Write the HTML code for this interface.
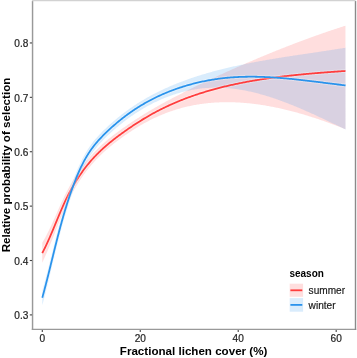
<!DOCTYPE html>
<html><head><meta charset="utf-8"><style>
html,body{margin:0;padding:0;background:#fff;}
svg{display:block;will-change:transform;}
text{font-family:"Liberation Sans",sans-serif;}
</style></head><body>
<svg width="357" height="358" viewBox="0 0 357 358">
<rect width="357" height="358" fill="#fff"/>
<path d="M42.26,242.67L43.27,240.98L44.29,239.23L45.30,237.40L46.31,235.52L47.33,233.57L48.34,231.55L49.36,229.49L50.37,227.37L51.38,225.20L52.40,223.00L53.41,220.76L54.43,218.49L55.44,216.21L56.46,213.92L57.47,211.62L58.48,209.33L59.50,207.06L60.51,204.80L61.53,202.58L62.54,200.38L63.55,198.23L64.57,196.12L65.58,194.05L66.60,192.04L67.61,190.07L68.62,188.16L69.64,186.29L70.65,184.48L71.67,182.71L72.68,180.98L73.69,179.30L74.71,177.66L75.72,176.06L76.74,174.49L77.75,172.96L78.76,171.47L79.78,170.01L80.79,168.58L81.81,167.18L82.82,165.81L83.83,164.47L84.85,163.16L85.86,161.88L86.88,160.62L87.89,159.39L88.90,158.19L89.92,157.01L90.93,155.85L91.95,154.72L92.96,153.62L93.98,152.53L94.99,151.47L96.00,150.43L97.02,149.41L98.03,148.41L99.05,147.43L100.06,146.47L101.07,145.53L102.09,144.60L103.10,143.69L104.12,142.80L105.13,141.92L106.14,141.06L107.16,140.20L108.17,139.36L109.19,138.53L110.20,137.72L111.21,136.91L112.23,136.11L113.24,135.33L114.26,134.55L115.27,133.78L116.28,133.02L117.30,132.26L118.31,131.52L119.33,130.78L120.34,130.04L121.35,129.31L122.37,128.59L123.38,127.87L124.40,127.16L125.41,126.46L126.43,125.75L127.44,125.05L128.45,124.36L129.47,123.67L130.48,122.98L131.50,122.30L132.51,121.62L133.52,120.95L134.54,120.28L135.55,119.62L136.57,118.96L137.58,118.30L138.59,117.65L139.61,117.00L140.62,116.36L141.64,115.72L142.65,115.09L143.66,114.46L144.68,113.83L145.69,113.21L146.71,112.59L147.72,111.98L148.73,111.37L149.75,110.76L150.76,110.16L151.78,109.56L152.79,108.97L153.80,108.38L154.82,107.79L155.83,107.21L156.85,106.63L157.86,106.06L158.88,105.49L159.89,104.92L160.90,104.36L161.92,103.80L162.93,103.24L163.95,102.69L164.96,102.14L165.97,101.59L166.99,101.05L168.00,100.50L169.02,99.96L170.03,99.42L171.04,98.89L172.06,98.36L173.07,97.82L174.09,97.30L175.10,96.77L176.11,96.24L177.13,95.72L178.14,95.20L179.16,94.68L180.17,94.16L181.18,93.64L182.20,93.13L183.21,92.61L184.23,92.10L185.24,91.59L186.25,91.08L187.27,90.58L188.28,90.07L189.30,89.57L190.31,89.06L191.33,88.56L192.34,88.06L193.35,87.56L194.37,87.07L195.38,86.57L196.40,86.08L197.41,85.58L198.42,85.09L199.44,84.60L200.45,84.11L201.47,83.63L202.48,83.14L203.49,82.66L204.51,82.17L205.52,81.69L206.54,81.21L207.55,80.73L208.56,80.25L209.58,79.77L210.59,79.30L211.61,78.82L212.62,78.35L213.63,77.87L214.65,77.40L215.66,76.93L216.68,76.46L217.69,75.99L218.70,75.53L219.72,75.06L220.73,74.60L221.75,74.13L222.76,73.67L223.78,73.21L224.79,72.75L225.80,72.29L226.82,71.83L227.83,71.37L228.85,70.91L229.86,70.46L230.87,70.00L231.89,69.55L232.90,69.10L233.92,68.65L234.93,68.20L235.94,67.75L236.96,67.30L237.97,66.85L238.99,66.41L240.00,65.96L241.01,65.52L242.03,65.07L243.04,64.63L244.06,64.19L245.07,63.75L246.08,63.31L247.10,62.87L248.11,62.44L249.13,62.00L250.14,61.57L251.15,61.13L252.17,60.70L253.18,60.27L254.20,59.84L255.21,59.41L256.22,58.98L257.24,58.55L258.25,58.12L259.27,57.70L260.28,57.27L261.30,56.85L262.31,56.42L263.32,56.00L264.34,55.58L265.35,55.16L266.37,54.74L267.38,54.33L268.39,53.91L269.41,53.49L270.42,53.08L271.44,52.67L272.45,52.25L273.46,51.84L274.48,51.43L275.49,51.02L276.51,50.62L277.52,50.21L278.53,49.80L279.55,49.40L280.56,48.99L281.58,48.59L282.59,48.19L283.60,47.79L284.62,47.39L285.63,46.99L286.65,46.60L287.66,46.20L288.67,45.81L289.69,45.41L290.70,45.02L291.72,44.63L292.73,44.24L293.75,43.85L294.76,43.46L295.77,43.07L296.79,42.69L297.80,42.31L298.82,41.92L299.83,41.54L300.84,41.16L301.86,40.78L302.87,40.40L303.89,40.02L304.90,39.65L305.91,39.27L306.93,38.90L307.94,38.53L308.96,38.16L309.97,37.79L310.98,37.42L312.00,37.05L313.01,36.69L314.03,36.32L315.04,35.96L316.05,35.60L317.07,35.24L318.08,34.88L319.10,34.52L320.11,34.16L321.12,33.81L322.14,33.45L323.15,33.10L324.17,32.75L325.18,32.40L326.20,32.05L327.21,31.70L328.22,31.36L329.24,31.01L330.25,30.67L331.27,30.33L332.28,29.99L333.29,29.65L334.31,29.31L335.32,28.97L336.34,28.64L337.35,28.30L338.36,27.97L339.38,27.64L340.39,27.31L341.41,26.99L342.42,26.66L343.43,26.33L344.45,26.01L345.46,25.69L345.46,129.20L344.45,128.80L343.43,128.40L342.42,128.00L341.41,127.60L340.39,127.21L339.38,126.82L338.36,126.43L337.35,126.04L336.34,125.66L335.32,125.27L334.31,124.89L333.29,124.52L332.28,124.14L331.27,123.77L330.25,123.39L329.24,123.02L328.22,122.66L327.21,122.29L326.20,121.93L325.18,121.57L324.17,121.21L323.15,120.86L322.14,120.51L321.12,120.16L320.11,119.81L319.10,119.47L318.08,119.12L317.07,118.78L316.05,118.45L315.04,118.11L314.03,117.78L313.01,117.45L312.00,117.13L310.98,116.80L309.97,116.48L308.96,116.17L307.94,115.85L306.93,115.54L305.91,115.23L304.90,114.92L303.89,114.62L302.87,114.32L301.86,114.02L300.84,113.73L299.83,113.44L298.82,113.15L297.80,112.87L296.79,112.58L295.77,112.31L294.76,112.03L293.75,111.76L292.73,111.49L291.72,111.22L290.70,110.96L289.69,110.70L288.67,110.45L287.66,110.19L286.65,109.94L285.63,109.70L284.62,109.46L283.60,109.22L282.59,108.98L281.58,108.75L280.56,108.52L279.55,108.30L278.53,108.08L277.52,107.86L276.51,107.64L275.49,107.43L274.48,107.23L273.46,107.02L272.45,106.82L271.44,106.63L270.42,106.44L269.41,106.25L268.39,106.07L267.38,105.89L266.37,105.71L265.35,105.54L264.34,105.37L263.32,105.20L262.31,105.04L261.30,104.89L260.28,104.74L259.27,104.59L258.25,104.44L257.24,104.30L256.22,104.17L255.21,104.04L254.20,103.91L253.18,103.79L252.17,103.67L251.15,103.56L250.14,103.45L249.13,103.34L248.11,103.24L247.10,103.14L246.08,103.05L245.07,102.96L244.06,102.88L243.04,102.80L242.03,102.73L241.01,102.66L240.00,102.59L238.99,102.54L237.97,102.48L236.96,102.43L235.94,102.38L234.93,102.34L233.92,102.31L232.90,102.28L231.89,102.25L230.87,102.23L229.86,102.22L228.85,102.20L227.83,102.20L226.82,102.20L225.80,102.20L224.79,102.21L223.78,102.23L222.76,102.25L221.75,102.27L220.73,102.31L219.72,102.34L218.70,102.38L217.69,102.43L216.68,102.48L215.66,102.54L214.65,102.61L213.63,102.67L212.62,102.75L211.61,102.83L210.59,102.92L209.58,103.01L208.56,103.11L207.55,103.21L206.54,103.32L205.52,103.44L204.51,103.56L203.49,103.69L202.48,103.82L201.47,103.96L200.45,104.10L199.44,104.26L198.42,104.42L197.41,104.58L196.40,104.75L195.38,104.93L194.37,105.11L193.35,105.30L192.34,105.50L191.33,105.70L190.31,105.91L189.30,106.13L188.28,106.35L187.27,106.58L186.25,106.82L185.24,107.06L184.23,107.32L183.21,107.57L182.20,107.84L181.18,108.11L180.17,108.39L179.16,108.68L178.14,108.97L177.13,109.27L176.11,109.58L175.10,109.89L174.09,110.22L173.07,110.55L172.06,110.89L171.04,111.23L170.03,111.59L169.02,111.95L168.00,112.32L166.99,112.70L165.97,113.08L164.96,113.47L163.95,113.88L162.93,114.28L161.92,114.70L160.90,115.13L159.89,115.56L158.88,116.00L157.86,116.45L156.85,116.91L155.83,117.38L154.82,117.85L153.80,118.33L152.79,118.83L151.78,119.33L150.76,119.83L149.75,120.35L148.73,120.88L147.72,121.41L146.71,121.95L145.69,122.50L144.68,123.06L143.66,123.62L142.65,124.19L141.64,124.78L140.62,125.36L139.61,125.96L138.59,126.57L137.58,127.18L136.57,127.80L135.55,128.42L134.54,129.06L133.52,129.70L132.51,130.35L131.50,131.01L130.48,131.67L129.47,132.34L128.45,133.02L127.44,133.70L126.43,134.40L125.41,135.10L124.40,135.80L123.38,136.51L122.37,137.24L121.35,137.96L120.34,138.70L119.33,139.44L118.31,140.20L117.30,140.96L116.28,141.73L115.27,142.51L114.26,143.30L113.24,144.10L112.23,144.91L111.21,145.73L110.20,146.57L109.19,147.42L108.17,148.27L107.16,149.15L106.14,150.03L105.13,150.93L104.12,151.85L103.10,152.78L102.09,153.73L101.07,154.69L100.06,155.68L99.05,156.68L98.03,157.70L97.02,158.74L96.00,159.80L94.99,160.89L93.98,162.00L92.96,163.14L91.95,164.30L90.93,165.49L89.92,166.70L88.90,167.94L87.89,169.22L86.88,170.51L85.86,171.84L84.85,173.20L83.83,174.60L82.82,176.02L81.81,177.48L80.79,178.98L79.78,180.51L78.76,182.08L77.75,183.68L76.74,185.33L75.72,187.02L74.71,188.76L73.69,190.53L72.68,192.36L71.67,194.24L70.65,196.16L69.64,198.14L68.62,200.18L67.61,202.28L66.60,204.43L65.58,206.65L64.57,208.92L63.55,211.25L62.54,213.63L61.53,216.05L60.51,218.52L59.50,221.03L58.48,223.57L57.47,226.13L56.46,228.71L55.44,231.30L54.43,233.89L53.41,236.47L52.40,239.04L51.38,241.58L50.37,244.10L49.36,246.58L48.34,249.02L47.33,251.42L46.31,253.77L45.30,256.07L44.29,258.32L43.27,260.52L42.26,262.66Z" fill="rgba(255,61,61,0.17)"/>
<path d="M42.29,290.71L43.30,287.04L44.32,283.30L45.33,279.48L46.35,275.60L47.36,271.66L48.38,267.67L49.39,263.64L50.40,259.58L51.42,255.50L52.43,251.41L53.45,247.34L54.46,243.28L55.47,239.26L56.49,235.27L57.50,231.34L58.52,227.47L59.53,223.66L60.55,219.93L61.56,216.27L62.57,212.70L63.59,209.21L64.60,205.80L65.62,202.48L66.63,199.25L67.64,196.10L68.66,193.03L69.67,190.05L70.69,187.14L71.70,184.32L72.72,181.57L73.73,178.89L74.74,176.28L75.76,173.74L76.77,171.27L77.79,168.87L78.80,166.56L79.81,164.32L80.83,162.16L81.84,160.09L82.86,158.10L83.87,156.19L84.89,154.35L85.90,152.59L86.91,150.90L87.93,149.28L88.94,147.73L89.96,146.24L90.97,144.81L91.98,143.44L93.00,142.12L94.01,140.85L95.03,139.62L96.04,138.42L97.06,137.26L98.07,136.13L99.08,135.02L100.10,133.95L101.11,132.89L102.13,131.86L103.14,130.85L104.15,129.86L105.17,128.88L106.18,127.92L107.20,126.97L108.21,126.04L109.23,125.11L110.24,124.20L111.25,123.30L112.27,122.41L113.28,121.53L114.30,120.67L115.31,119.81L116.32,118.96L117.34,118.12L118.35,117.29L119.37,116.47L120.38,115.66L121.39,114.86L122.41,114.07L123.42,113.29L124.44,112.52L125.45,111.76L126.47,111.01L127.48,110.27L128.49,109.54L129.51,108.81L130.52,108.10L131.54,107.40L132.55,106.70L133.56,106.01L134.58,105.34L135.59,104.67L136.61,104.01L137.62,103.36L138.64,102.72L139.65,102.08L140.66,101.46L141.68,100.84L142.69,100.23L143.71,99.63L144.72,99.03L145.73,98.45L146.75,97.87L147.76,97.29L148.78,96.73L149.79,96.17L150.81,95.62L151.82,95.07L152.83,94.53L153.85,94.00L154.86,93.47L155.88,92.96L156.89,92.44L157.90,91.94L158.92,91.43L159.93,90.94L160.95,90.45L161.96,89.97L162.98,89.49L163.99,89.02L165.00,88.55L166.02,88.09L167.03,87.63L168.05,87.18L169.06,86.74L170.07,86.30L171.09,85.86L172.10,85.43L173.12,85.01L174.13,84.59L175.15,84.17L176.16,83.76L177.17,83.35L178.19,82.95L179.20,82.55L180.22,82.16L181.23,81.77L182.24,81.39L183.26,81.01L184.27,80.64L185.29,80.26L186.30,79.90L187.32,79.53L188.33,79.17L189.34,78.82L190.36,78.47L191.37,78.12L192.39,77.78L193.40,77.44L194.41,77.10L195.43,76.77L196.44,76.44L197.46,76.11L198.47,75.79L199.49,75.47L200.50,75.16L201.51,74.84L202.53,74.54L203.54,74.23L204.56,73.93L205.57,73.63L206.58,73.33L207.60,73.04L208.61,72.75L209.63,72.46L210.64,72.18L211.66,71.90L212.67,71.62L213.68,71.34L214.70,71.07L215.71,70.80L216.73,70.53L217.74,70.27L218.75,70.01L219.77,69.75L220.78,69.49L221.80,69.24L222.81,68.98L223.83,68.73L224.84,68.49L225.85,68.24L226.87,68.00L227.88,67.76L228.90,67.52L229.91,67.29L230.92,67.05L231.94,66.82L232.95,66.60L233.97,66.37L234.98,66.14L236.00,65.92L237.01,65.70L238.02,65.48L239.04,65.27L240.05,65.05L241.07,64.84L242.08,64.63L243.09,64.42L244.11,64.21L245.12,64.00L246.14,63.80L247.15,63.60L248.17,63.40L249.18,63.20L250.19,63.00L251.21,62.80L252.22,62.61L253.24,62.42L254.25,62.23L255.26,62.04L256.28,61.85L257.29,61.66L258.31,61.47L259.32,61.29L260.34,61.11L261.35,60.92L262.36,60.74L263.38,60.56L264.39,60.39L265.41,60.21L266.42,60.03L267.43,59.86L268.45,59.68L269.46,59.51L270.48,59.34L271.49,59.17L272.51,59.00L273.52,58.83L274.53,58.66L275.55,58.50L276.56,58.33L277.58,58.17L278.59,58.00L279.60,57.84L280.62,57.68L281.63,57.51L282.65,57.35L283.66,57.19L284.68,57.03L285.69,56.87L286.70,56.71L287.72,56.56L288.73,56.40L289.75,56.24L290.76,56.09L291.77,55.93L292.79,55.77L293.80,55.62L294.82,55.47L295.83,55.31L296.85,55.16L297.86,55.00L298.87,54.85L299.89,54.70L300.90,54.55L301.92,54.39L302.93,54.24L303.94,54.09L304.96,53.94L305.97,53.79L306.99,53.64L308.00,53.49L309.02,53.33L310.03,53.18L311.04,53.03L312.06,52.88L313.07,52.73L314.09,52.58L315.10,52.43L316.11,52.28L317.13,52.13L318.14,51.97L319.16,51.82L320.17,51.67L321.19,51.52L322.20,51.36L323.21,51.21L324.23,51.06L325.24,50.91L326.26,50.75L327.27,50.60L328.28,50.44L329.30,50.29L330.31,50.13L331.33,49.97L332.34,49.82L333.36,49.66L334.37,49.50L335.38,49.34L336.40,49.18L337.41,49.03L338.43,48.86L339.44,48.70L340.45,48.54L341.47,48.38L342.48,48.21L343.50,48.05L344.51,47.88L345.53,47.72L345.53,129.51L344.51,129.02L343.50,128.53L342.48,128.04L341.47,127.55L340.45,127.06L339.44,126.57L338.43,126.08L337.41,125.59L336.40,125.10L335.38,124.61L334.37,124.12L333.36,123.64L332.34,123.15L331.33,122.66L330.31,122.18L329.30,121.69L328.28,121.21L327.27,120.73L326.26,120.25L325.24,119.77L324.23,119.29L323.21,118.81L322.20,118.33L321.19,117.86L320.17,117.38L319.16,116.91L318.14,116.44L317.13,115.97L316.11,115.50L315.10,115.04L314.09,114.57L313.07,114.11L312.06,113.65L311.04,113.19L310.03,112.73L309.02,112.28L308.00,111.83L306.99,111.38L305.97,110.93L304.96,110.48L303.94,110.04L302.93,109.60L301.92,109.16L300.90,108.73L299.89,108.30L298.87,107.87L297.86,107.44L296.85,107.01L295.83,106.59L294.82,106.17L293.80,105.76L292.79,105.34L291.77,104.94L290.76,104.53L289.75,104.13L288.73,103.73L287.72,103.33L286.70,102.94L285.69,102.55L284.68,102.16L283.66,101.78L282.65,101.40L281.63,101.03L280.62,100.66L279.60,100.29L278.59,99.92L277.58,99.57L276.56,99.21L275.55,98.86L274.53,98.51L273.52,98.17L272.51,97.83L271.49,97.50L270.48,97.17L269.46,96.84L268.45,96.52L267.43,96.21L266.42,95.89L265.41,95.59L264.39,95.29L263.38,94.99L262.36,94.70L261.35,94.41L260.34,94.13L259.32,93.85L258.31,93.58L257.29,93.31L256.28,93.05L255.26,92.80L254.25,92.55L253.24,92.30L252.22,92.06L251.21,91.83L250.19,91.60L249.18,91.38L248.17,91.16L247.15,90.95L246.14,90.74L245.12,90.55L244.11,90.35L243.09,90.17L242.08,89.99L241.07,89.81L240.05,89.64L239.04,89.48L238.02,89.33L237.01,89.18L236.00,89.04L234.98,88.90L233.97,88.77L232.95,88.65L231.94,88.54L230.92,88.43L229.91,88.33L228.90,88.23L227.88,88.15L226.87,88.07L225.85,88.00L224.84,87.93L223.83,87.87L222.81,87.82L221.80,87.78L220.78,87.74L219.77,87.71L218.75,87.69L217.74,87.68L216.73,87.67L215.71,87.67L214.70,87.68L213.68,87.69L212.67,87.72L211.66,87.75L210.64,87.79L209.63,87.83L208.61,87.89L207.60,87.95L206.58,88.02L205.57,88.09L204.56,88.18L203.54,88.27L202.53,88.37L201.51,88.48L200.50,88.60L199.49,88.72L198.47,88.85L197.46,88.99L196.44,89.14L195.43,89.30L194.41,89.47L193.40,89.64L192.39,89.82L191.37,90.01L190.36,90.21L189.34,90.42L188.33,90.63L187.32,90.86L186.30,91.09L185.29,91.33L184.27,91.58L183.26,91.83L182.24,92.10L181.23,92.37L180.22,92.65L179.20,92.94L178.19,93.24L177.17,93.55L176.16,93.86L175.15,94.18L174.13,94.51L173.12,94.85L172.10,95.20L171.09,95.55L170.07,95.92L169.06,96.29L168.05,96.67L167.03,97.06L166.02,97.45L165.00,97.86L163.99,98.27L162.98,98.69L161.96,99.12L160.95,99.56L159.93,100.01L158.92,100.46L157.90,100.93L156.89,101.40L155.88,101.88L154.86,102.37L153.85,102.87L152.83,103.37L151.82,103.89L150.81,104.41L149.79,104.94L148.78,105.48L147.76,106.03L146.75,106.59L145.73,107.16L144.72,107.74L143.71,108.33L142.69,108.92L141.68,109.53L140.66,110.14L139.65,110.76L138.64,111.40L137.62,112.04L136.61,112.69L135.59,113.35L134.58,114.03L133.56,114.71L132.55,115.40L131.54,116.10L130.52,116.81L129.51,117.54L128.49,118.27L127.48,119.01L126.47,119.76L125.45,120.53L124.44,121.30L123.42,122.08L122.41,122.88L121.39,123.68L120.38,124.50L119.37,125.32L118.35,126.16L117.34,127.00L116.32,127.86L115.31,128.73L114.30,129.61L113.28,130.50L112.27,131.40L111.25,132.31L110.24,133.24L109.23,134.17L108.21,135.12L107.20,136.08L106.18,137.06L105.17,138.05L104.15,139.06L103.14,140.08L102.13,141.13L101.11,142.20L100.10,143.29L99.08,144.40L98.07,145.54L97.06,146.71L96.04,147.92L95.03,149.16L94.01,150.44L93.00,151.76L91.98,153.13L90.97,154.55L89.96,156.03L88.94,157.57L87.93,159.17L86.91,160.85L85.90,162.60L84.89,164.42L83.87,166.32L82.86,168.29L81.84,170.35L80.83,172.49L79.81,174.72L78.80,177.03L77.79,179.42L76.77,181.89L75.76,184.44L74.74,187.06L73.73,189.75L72.72,192.51L71.70,195.35L70.69,198.27L69.67,201.26L68.66,204.34L67.64,207.50L66.63,210.75L65.62,214.09L64.60,217.51L63.59,221.02L62.57,224.62L61.56,228.30L60.55,232.07L59.53,235.92L58.52,239.84L57.50,243.84L56.49,247.90L55.47,252.01L54.46,256.16L53.45,260.35L52.43,264.56L51.42,268.78L50.40,273.00L49.39,277.21L48.38,281.39L47.36,285.53L46.35,289.62L45.33,293.66L44.32,297.63L43.30,301.54L42.29,305.36Z" fill="rgba(42,147,236,0.18)"/>
<path d="M42.26,253.06L42.70,252.23L43.13,251.39L43.56,250.54L43.99,249.69L44.42,248.85L44.84,247.99L45.25,247.14L45.66,246.28L46.07,245.43L46.48,244.56L46.88,243.70L47.28,242.84L47.68,241.97L48.08,241.10L48.47,240.23L48.86,239.36L49.24,238.48L49.63,237.61L50.01,236.73L50.39,235.85L50.77,234.98L51.15,234.09L51.53,233.21L51.90,232.33L52.28,231.45L52.65,230.56L53.02,229.68L53.39,228.79L53.76,227.90L54.13,227.01L54.50,226.13L54.87,225.24L55.23,224.35L55.60,223.46L55.97,222.57L56.34,221.68L56.71,220.79L57.07,219.90L57.44,219.01L57.81,218.12L58.18,217.23L58.55,216.34L58.93,215.45L59.30,214.57L59.67,213.68L60.05,212.79L60.43,211.91L60.81,211.02L61.19,210.14L61.57,209.25L61.95,208.37L62.34,207.49L62.73,206.61L63.12,205.73L63.52,204.85L63.91,203.98L64.31,203.10L64.71,202.23L65.12,201.36L65.53,200.49L65.94,199.62L66.36,198.75L66.78,197.89L67.20,197.03L67.62,196.17L68.06,195.31L68.49,194.46L68.93,193.60L69.37,192.75L69.82,191.91L70.27,191.06L70.72,190.22L71.18,189.38L71.65,188.54L72.12,187.70L72.59,186.87L73.06,186.04L73.54,185.21L74.03,184.39L74.52,183.57L75.01,182.75L75.51,181.93L76.01,181.12L76.52,180.31L77.03,179.51L77.55,178.70L78.07,177.90L78.59,177.10L79.12,176.31L79.65,175.52L80.19,174.73L80.73,173.95L81.28,173.17L81.83,172.39L82.38,171.62L82.94,170.85L83.51,170.08L84.08,169.32L84.65,168.56L85.23,167.80L85.81,167.05L86.40,166.30L86.99,165.56L87.58,164.82L88.18,164.08L88.79,163.35L89.40,162.62L90.01,161.89L90.63,161.17L91.26,160.45L91.89,159.74L92.52,159.03L93.16,158.33L93.80,157.63L94.45,156.93L95.10,156.24L95.76,155.55L96.42,154.87L97.09,154.19L97.76,153.52L98.43,152.85L99.11,152.18L99.80,151.52L100.49,150.86L101.18,150.21L101.88,149.56L102.58,148.92L103.29,148.27L104.00,147.64L104.71,147.00L105.43,146.37L106.15,145.74L106.87,145.12L107.60,144.50L108.33,143.88L109.06,143.27L109.80,142.66L110.54,142.05L111.29,141.45L112.04,140.85L112.79,140.25L113.54,139.65L114.29,139.06L115.05,138.47L115.81,137.89L116.58,137.30L117.34,136.72L118.11,136.15L118.88,135.57L119.66,135.00L120.43,134.43L121.21,133.86L121.99,133.29L122.77,132.73L123.56,132.17L124.34,131.61L125.13,131.05L125.92,130.50L126.71,129.94L127.50,129.39L128.29,128.84L129.09,128.30L129.88,127.75L130.68,127.21L131.48,126.67L132.28,126.13L133.08,125.60L133.89,125.06L134.69,124.53L135.50,124.01L136.31,123.48L137.12,122.96L137.93,122.44L138.75,121.92L139.56,121.41L140.38,120.90L141.20,120.39L142.02,119.88L142.84,119.38L143.66,118.88L144.49,118.38L145.31,117.89L146.14,117.40L146.97,116.91L147.80,116.42L148.63,115.94L149.47,115.46L150.30,114.99L151.14,114.52L151.98,114.05L152.82,113.59L153.66,113.12L154.50,112.67L155.34,112.21L156.19,111.76L157.04,111.32L157.89,110.87L158.74,110.43L159.59,110.00L160.44,109.56L161.29,109.13L162.15,108.71L163.01,108.28L163.86,107.87L164.72,107.45L165.59,107.04L166.45,106.63L167.31,106.22L168.18,105.82L169.04,105.42L169.91,105.03L170.78,104.63L171.65,104.24L172.52,103.86L173.40,103.48L174.27,103.10L175.14,102.72L176.02,102.35L176.90,101.98L177.78,101.61L178.66,101.25L179.54,100.89L180.42,100.53L181.31,100.17L182.19,99.82L183.08,99.48L183.97,99.13L184.86,98.79L185.75,98.45L186.64,98.11L187.53,97.78L188.42,97.45L189.32,97.12L190.21,96.80L191.11,96.48L192.00,96.16L192.90,95.84L193.80,95.53L194.70,95.22L195.61,94.91L196.51,94.61L197.41,94.31L198.32,94.01L199.22,93.71L200.13,93.42L201.04,93.13L201.95,92.84L202.86,92.56L203.77,92.28L204.68,92.00L205.59,91.72L206.50,91.45L207.42,91.17L208.33,90.90L209.25,90.64L210.17,90.37L211.08,90.11L212.00,89.85L212.92,89.60L213.84,89.34L214.76,89.09L215.68,88.84L216.61,88.60L217.53,88.35L218.46,88.11L219.38,87.87L220.31,87.64L221.23,87.40L222.16,87.17L223.09,86.94L224.02,86.71L224.95,86.49L225.88,86.27L226.81,86.04L227.74,85.83L228.67,85.61L229.61,85.40L230.54,85.19L231.47,84.98L232.41,84.77L233.34,84.56L234.28,84.36L235.22,84.16L236.15,83.96L237.09,83.77L238.03,83.57L238.97,83.38L239.91,83.19L240.85,83.00L241.79,82.81L242.73,82.63L243.68,82.45L244.62,82.27L245.56,82.09L246.50,81.91L247.45,81.74L248.39,81.57L249.34,81.39L250.28,81.23L251.23,81.06L252.18,80.89L253.12,80.73L254.07,80.57L255.02,80.41L255.96,80.25L256.91,80.09L257.86,79.94L258.81,79.79L259.76,79.64L260.71,79.49L261.66,79.34L262.61,79.19L263.56,79.05L264.51,78.91L265.46,78.76L266.42,78.63L267.37,78.49L268.32,78.35L269.27,78.22L270.22,78.08L271.18,77.95L272.13,77.82L273.08,77.69L274.04,77.56L274.99,77.44L275.95,77.31L276.90,77.19L277.85,77.07L278.81,76.95L279.76,76.83L280.72,76.71L281.67,76.59L282.63,76.48L283.58,76.37L284.54,76.25L285.50,76.14L286.45,76.03L287.41,75.92L288.36,75.82L289.32,75.71L290.27,75.60L291.23,75.50L292.19,75.40L293.14,75.29L294.10,75.19L295.05,75.09L296.01,75.00L296.97,74.90L297.92,74.80L298.88,74.71L299.83,74.61L300.79,74.52L301.74,74.43L302.70,74.34L303.66,74.25L304.61,74.16L305.57,74.07L306.52,73.98L307.48,73.89L308.43,73.81L309.39,73.72L310.34,73.64L311.29,73.55L312.25,73.47L313.20,73.39L314.16,73.31L315.11,73.23L316.06,73.15L317.02,73.07L317.97,72.99L318.92,72.92L319.88,72.84L320.83,72.76L321.78,72.69L322.73,72.61L323.68,72.54L324.63,72.46L325.59,72.39L326.54,72.32L327.49,72.25L328.44,72.18L329.38,72.11L330.33,72.03L331.28,71.97L332.23,71.90L333.18,71.83L334.13,71.76L335.07,71.69L336.02,71.62L336.97,71.55L337.91,71.49L338.86,71.42L339.80,71.35L340.75,71.29L341.69,71.22L342.63,71.16L343.58,71.09L344.52,71.03L345.46,70.96" fill="none" stroke="#fff" stroke-opacity="0.3" stroke-width="3.8"/>
<path d="M42.26,253.06L42.70,252.23L43.13,251.39L43.56,250.54L43.99,249.69L44.42,248.85L44.84,247.99L45.25,247.14L45.66,246.28L46.07,245.43L46.48,244.56L46.88,243.70L47.28,242.84L47.68,241.97L48.08,241.10L48.47,240.23L48.86,239.36L49.24,238.48L49.63,237.61L50.01,236.73L50.39,235.85L50.77,234.98L51.15,234.09L51.53,233.21L51.90,232.33L52.28,231.45L52.65,230.56L53.02,229.68L53.39,228.79L53.76,227.90L54.13,227.01L54.50,226.13L54.87,225.24L55.23,224.35L55.60,223.46L55.97,222.57L56.34,221.68L56.71,220.79L57.07,219.90L57.44,219.01L57.81,218.12L58.18,217.23L58.55,216.34L58.93,215.45L59.30,214.57L59.67,213.68L60.05,212.79L60.43,211.91L60.81,211.02L61.19,210.14L61.57,209.25L61.95,208.37L62.34,207.49L62.73,206.61L63.12,205.73L63.52,204.85L63.91,203.98L64.31,203.10L64.71,202.23L65.12,201.36L65.53,200.49L65.94,199.62L66.36,198.75L66.78,197.89L67.20,197.03L67.62,196.17L68.06,195.31L68.49,194.46L68.93,193.60L69.37,192.75L69.82,191.91L70.27,191.06L70.72,190.22L71.18,189.38L71.65,188.54L72.12,187.70L72.59,186.87L73.06,186.04L73.54,185.21L74.03,184.39L74.52,183.57L75.01,182.75L75.51,181.93L76.01,181.12L76.52,180.31L77.03,179.51L77.55,178.70L78.07,177.90L78.59,177.10L79.12,176.31L79.65,175.52L80.19,174.73L80.73,173.95L81.28,173.17L81.83,172.39L82.38,171.62L82.94,170.85L83.51,170.08L84.08,169.32L84.65,168.56L85.23,167.80L85.81,167.05L86.40,166.30L86.99,165.56L87.58,164.82L88.18,164.08L88.79,163.35L89.40,162.62L90.01,161.89L90.63,161.17L91.26,160.45L91.89,159.74L92.52,159.03L93.16,158.33L93.80,157.63L94.45,156.93L95.10,156.24L95.76,155.55L96.42,154.87L97.09,154.19L97.76,153.52L98.43,152.85L99.11,152.18L99.80,151.52L100.49,150.86L101.18,150.21L101.88,149.56L102.58,148.92L103.29,148.27L104.00,147.64L104.71,147.00L105.43,146.37L106.15,145.74L106.87,145.12L107.60,144.50L108.33,143.88L109.06,143.27L109.80,142.66L110.54,142.05L111.29,141.45L112.04,140.85L112.79,140.25L113.54,139.65L114.29,139.06L115.05,138.47L115.81,137.89L116.58,137.30L117.34,136.72L118.11,136.15L118.88,135.57L119.66,135.00L120.43,134.43L121.21,133.86L121.99,133.29L122.77,132.73L123.56,132.17L124.34,131.61L125.13,131.05L125.92,130.50L126.71,129.94L127.50,129.39L128.29,128.84L129.09,128.30L129.88,127.75L130.68,127.21L131.48,126.67L132.28,126.13L133.08,125.60L133.89,125.06L134.69,124.53L135.50,124.01L136.31,123.48L137.12,122.96L137.93,122.44L138.75,121.92L139.56,121.41L140.38,120.90L141.20,120.39L142.02,119.88L142.84,119.38L143.66,118.88L144.49,118.38L145.31,117.89L146.14,117.40L146.97,116.91L147.80,116.42L148.63,115.94L149.47,115.46L150.30,114.99L151.14,114.52L151.98,114.05L152.82,113.59L153.66,113.12L154.50,112.67L155.34,112.21L156.19,111.76L157.04,111.32L157.89,110.87L158.74,110.43L159.59,110.00L160.44,109.56L161.29,109.13L162.15,108.71L163.01,108.28L163.86,107.87L164.72,107.45L165.59,107.04L166.45,106.63L167.31,106.22L168.18,105.82L169.04,105.42L169.91,105.03L170.78,104.63L171.65,104.24L172.52,103.86L173.40,103.48L174.27,103.10L175.14,102.72L176.02,102.35L176.90,101.98L177.78,101.61L178.66,101.25L179.54,100.89L180.42,100.53L181.31,100.17L182.19,99.82L183.08,99.48L183.97,99.13L184.86,98.79L185.75,98.45L186.64,98.11L187.53,97.78L188.42,97.45L189.32,97.12L190.21,96.80L191.11,96.48L192.00,96.16L192.90,95.84L193.80,95.53L194.70,95.22L195.61,94.91L196.51,94.61L197.41,94.31L198.32,94.01L199.22,93.71L200.13,93.42L201.04,93.13L201.95,92.84L202.86,92.56L203.77,92.28L204.68,92.00L205.59,91.72L206.50,91.45L207.42,91.17L208.33,90.90L209.25,90.64L210.17,90.37L211.08,90.11L212.00,89.85L212.92,89.60L213.84,89.34L214.76,89.09L215.68,88.84L216.61,88.60L217.53,88.35L218.46,88.11L219.38,87.87L220.31,87.64L221.23,87.40L222.16,87.17L223.09,86.94L224.02,86.71L224.95,86.49L225.88,86.27L226.81,86.04L227.74,85.83L228.67,85.61L229.61,85.40L230.54,85.19L231.47,84.98L232.41,84.77L233.34,84.56L234.28,84.36L235.22,84.16L236.15,83.96L237.09,83.77L238.03,83.57L238.97,83.38L239.91,83.19L240.85,83.00L241.79,82.81L242.73,82.63L243.68,82.45L244.62,82.27L245.56,82.09L246.50,81.91L247.45,81.74L248.39,81.57L249.34,81.39L250.28,81.23L251.23,81.06L252.18,80.89L253.12,80.73L254.07,80.57L255.02,80.41L255.96,80.25L256.91,80.09L257.86,79.94L258.81,79.79L259.76,79.64L260.71,79.49L261.66,79.34L262.61,79.19L263.56,79.05L264.51,78.91L265.46,78.76L266.42,78.63L267.37,78.49L268.32,78.35L269.27,78.22L270.22,78.08L271.18,77.95L272.13,77.82L273.08,77.69L274.04,77.56L274.99,77.44L275.95,77.31L276.90,77.19L277.85,77.07L278.81,76.95L279.76,76.83L280.72,76.71L281.67,76.59L282.63,76.48L283.58,76.37L284.54,76.25L285.50,76.14L286.45,76.03L287.41,75.92L288.36,75.82L289.32,75.71L290.27,75.60L291.23,75.50L292.19,75.40L293.14,75.29L294.10,75.19L295.05,75.09L296.01,75.00L296.97,74.90L297.92,74.80L298.88,74.71L299.83,74.61L300.79,74.52L301.74,74.43L302.70,74.34L303.66,74.25L304.61,74.16L305.57,74.07L306.52,73.98L307.48,73.89L308.43,73.81L309.39,73.72L310.34,73.64L311.29,73.55L312.25,73.47L313.20,73.39L314.16,73.31L315.11,73.23L316.06,73.15L317.02,73.07L317.97,72.99L318.92,72.92L319.88,72.84L320.83,72.76L321.78,72.69L322.73,72.61L323.68,72.54L324.63,72.46L325.59,72.39L326.54,72.32L327.49,72.25L328.44,72.18L329.38,72.11L330.33,72.03L331.28,71.97L332.23,71.90L333.18,71.83L334.13,71.76L335.07,71.69L336.02,71.62L336.97,71.55L337.91,71.49L338.86,71.42L339.80,71.35L340.75,71.29L341.69,71.22L342.63,71.16L343.58,71.09L344.52,71.03L345.46,70.96" fill="none" stroke="#FF3D3D" stroke-width="1.78"/>
<path d="M42.29,297.73L42.58,296.69L42.86,295.64L43.15,294.60L43.43,293.55L43.71,292.51L43.99,291.46L44.27,290.41L44.55,289.37L44.82,288.32L45.10,287.27L45.37,286.22L45.64,285.17L45.92,284.12L46.19,283.07L46.45,282.01L46.72,280.96L46.99,279.91L47.26,278.86L47.52,277.80L47.79,276.75L48.05,275.69L48.32,274.64L48.58,273.59L48.84,272.53L49.11,271.47L49.37,270.42L49.63,269.36L49.89,268.31L50.15,267.25L50.41,266.19L50.67,265.14L50.93,264.08L51.19,263.02L51.45,261.96L51.71,260.91L51.97,259.85L52.23,258.79L52.49,257.73L52.75,256.67L53.01,255.62L53.27,254.56L53.53,253.50L53.79,252.44L54.05,251.38L54.31,250.32L54.58,249.27L54.84,248.21L55.10,247.15L55.37,246.09L55.63,245.04L55.90,243.98L56.16,242.92L56.43,241.86L56.70,240.81L56.97,239.75L57.24,238.69L57.51,237.64L57.78,236.58L58.05,235.53L58.33,234.47L58.60,233.42L58.88,232.36L59.15,231.31L59.43,230.25L59.71,229.20L60.00,228.15L60.28,227.10L60.56,226.04L60.85,224.99L61.14,223.94L61.43,222.89L61.72,221.84L62.01,220.79L62.30,219.74L62.60,218.69L62.90,217.65L63.20,216.60L63.50,215.55L63.81,214.51L64.11,213.46L64.42,212.42L64.73,211.37L65.04,210.33L65.36,209.29L65.68,208.25L66.00,207.21L66.32,206.17L66.64,205.13L66.97,204.09L67.30,203.05L67.63,202.01L67.96,200.98L68.30,199.94L68.64,198.91L68.99,197.88L69.33,196.85L69.68,195.81L70.03,194.78L70.38,193.76L70.74,192.73L71.10,191.70L71.47,190.68L71.83,189.65L72.20,188.63L72.58,187.60L72.95,186.58L73.33,185.56L73.71,184.54L74.10,183.53L74.49,182.51L74.88,181.49L75.28,180.48L75.68,179.47L76.09,178.45L76.49,177.44L76.91,176.44L77.32,175.43L77.75,174.43L78.17,173.42L78.60,172.43L79.04,171.43L79.48,170.43L79.93,169.44L80.38,168.46L80.84,167.47L81.31,166.49L81.78,165.52L82.26,164.54L82.75,163.58L83.24,162.61L83.74,161.65L84.25,160.70L84.77,159.75L85.29,158.81L85.83,157.87L86.37,156.94L86.92,156.01L87.48,155.09L88.04,154.18L88.62,153.27L89.21,152.37L89.81,151.47L90.41,150.58L91.03,149.70L91.66,148.83L92.30,147.96L92.95,147.10L93.60,146.25L94.27,145.41L94.94,144.57L95.63,143.73L96.32,142.91L97.02,142.09L97.73,141.27L98.45,140.46L99.17,139.66L99.90,138.86L100.64,138.07L101.39,137.28L102.14,136.50L102.90,135.72L103.66,134.94L104.43,134.18L105.21,133.41L105.99,132.65L106.78,131.90L107.57,131.15L108.36,130.40L109.16,129.65L109.97,128.91L110.77,128.18L111.59,127.44L112.40,126.71L113.22,125.99L114.04,125.27L114.87,124.55L115.70,123.83L116.54,123.13L117.37,122.42L118.22,121.72L119.06,121.02L119.91,120.33L120.77,119.64L121.62,118.96L122.48,118.28L123.35,117.61L124.21,116.94L125.09,116.27L125.96,115.62L126.84,114.96L127.72,114.31L128.61,113.67L129.49,113.03L130.39,112.40L131.28,111.78L132.18,111.15L133.08,110.54L133.99,109.93L134.90,109.33L135.81,108.73L136.72,108.14L137.64,107.55L138.56,106.97L139.49,106.40L140.42,105.83L141.35,105.26L142.28,104.71L143.22,104.15L144.16,103.61L145.10,103.07L146.05,102.53L147.00,102.00L147.95,101.48L148.90,100.96L149.86,100.45L150.82,99.95L151.78,99.44L152.75,98.95L153.72,98.46L154.69,97.98L155.66,97.50L156.64,97.03L157.62,96.56L158.60,96.10L159.58,95.64L160.57,95.19L161.56,94.75L162.55,94.31L163.54,93.88L164.54,93.45L165.54,93.03L166.54,92.61L167.54,92.20L168.54,91.79L169.55,91.39L170.56,91.00L171.57,90.61L172.59,90.23L173.60,89.85L174.62,89.48L175.64,89.11L176.66,88.75L177.68,88.39L178.71,88.04L179.74,87.70L180.77,87.36L181.80,87.03L182.83,86.70L183.87,86.37L184.90,86.06L185.94,85.74L186.98,85.44L188.02,85.14L189.06,84.84L190.11,84.55L191.16,84.27L192.20,83.99L193.25,83.71L194.30,83.44L195.36,83.18L196.41,82.92L197.46,82.67L198.52,82.42L199.58,82.18L200.64,81.95L201.70,81.71L202.76,81.49L203.82,81.27L204.88,81.05L205.95,80.84L207.01,80.64L208.08,80.44L209.15,80.25L210.22,80.06L211.29,79.88L212.36,79.70L213.43,79.53L214.50,79.36L215.58,79.20L216.65,79.04L217.73,78.89L218.80,78.74L219.88,78.60L220.96,78.47L222.03,78.34L223.11,78.21L224.19,78.09L225.27,77.98L226.35,77.87L227.43,77.76L228.51,77.66L229.60,77.57L230.68,77.48L231.76,77.40L232.84,77.32L233.93,77.25L235.01,77.18L236.09,77.11L237.18,77.06L238.26,77.00L239.35,76.95L240.43,76.91L241.52,76.87L242.60,76.83L243.69,76.80L244.78,76.78L245.86,76.75L246.95,76.74L248.04,76.72L249.13,76.71L250.21,76.71L251.30,76.71L252.39,76.71L253.48,76.72L254.57,76.73L255.65,76.74L256.74,76.76L257.83,76.78L258.92,76.81L260.01,76.84L261.10,76.87L262.19,76.91L263.28,76.95L264.37,76.99L265.46,77.04L266.55,77.09L267.64,77.14L268.73,77.19L269.82,77.25L270.91,77.32L272.00,77.38L273.09,77.45L274.18,77.52L275.27,77.59L276.35,77.67L277.44,77.75L278.53,77.83L279.62,77.91L280.71,78.00L281.80,78.09L282.89,78.18L283.98,78.27L285.07,78.37L286.16,78.46L287.25,78.56L288.34,78.66L289.42,78.77L290.51,78.87L291.60,78.98L292.69,79.09L293.78,79.20L294.86,79.31L295.95,79.43L297.04,79.54L298.12,79.66L299.21,79.78L300.30,79.90L301.38,80.02L302.47,80.14L303.55,80.27L304.64,80.39L305.72,80.52L306.81,80.64L307.89,80.77L308.97,80.90L310.06,81.03L311.14,81.16L312.22,81.29L313.30,81.42L314.39,81.56L315.47,81.69L316.55,81.82L317.63,81.96L318.71,82.09L319.79,82.22L320.87,82.36L321.95,82.49L323.02,82.63L324.10,82.76L325.18,82.90L326.25,83.03L327.33,83.17L328.40,83.30L329.48,83.44L330.55,83.57L331.63,83.70L332.70,83.84L333.77,83.97L334.84,84.10L335.92,84.23L336.99,84.36L338.06,84.50L339.12,84.62L340.19,84.75L341.26,84.88L342.33,85.01L343.39,85.13L344.46,85.26L345.53,85.38" fill="none" stroke="#fff" stroke-opacity="0.3" stroke-width="3.8"/>
<path d="M42.29,297.73L42.58,296.69L42.86,295.64L43.15,294.60L43.43,293.55L43.71,292.51L43.99,291.46L44.27,290.41L44.55,289.37L44.82,288.32L45.10,287.27L45.37,286.22L45.64,285.17L45.92,284.12L46.19,283.07L46.45,282.01L46.72,280.96L46.99,279.91L47.26,278.86L47.52,277.80L47.79,276.75L48.05,275.69L48.32,274.64L48.58,273.59L48.84,272.53L49.11,271.47L49.37,270.42L49.63,269.36L49.89,268.31L50.15,267.25L50.41,266.19L50.67,265.14L50.93,264.08L51.19,263.02L51.45,261.96L51.71,260.91L51.97,259.85L52.23,258.79L52.49,257.73L52.75,256.67L53.01,255.62L53.27,254.56L53.53,253.50L53.79,252.44L54.05,251.38L54.31,250.32L54.58,249.27L54.84,248.21L55.10,247.15L55.37,246.09L55.63,245.04L55.90,243.98L56.16,242.92L56.43,241.86L56.70,240.81L56.97,239.75L57.24,238.69L57.51,237.64L57.78,236.58L58.05,235.53L58.33,234.47L58.60,233.42L58.88,232.36L59.15,231.31L59.43,230.25L59.71,229.20L60.00,228.15L60.28,227.10L60.56,226.04L60.85,224.99L61.14,223.94L61.43,222.89L61.72,221.84L62.01,220.79L62.30,219.74L62.60,218.69L62.90,217.65L63.20,216.60L63.50,215.55L63.81,214.51L64.11,213.46L64.42,212.42L64.73,211.37L65.04,210.33L65.36,209.29L65.68,208.25L66.00,207.21L66.32,206.17L66.64,205.13L66.97,204.09L67.30,203.05L67.63,202.01L67.96,200.98L68.30,199.94L68.64,198.91L68.99,197.88L69.33,196.85L69.68,195.81L70.03,194.78L70.38,193.76L70.74,192.73L71.10,191.70L71.47,190.68L71.83,189.65L72.20,188.63L72.58,187.60L72.95,186.58L73.33,185.56L73.71,184.54L74.10,183.53L74.49,182.51L74.88,181.49L75.28,180.48L75.68,179.47L76.09,178.45L76.49,177.44L76.91,176.44L77.32,175.43L77.75,174.43L78.17,173.42L78.60,172.43L79.04,171.43L79.48,170.43L79.93,169.44L80.38,168.46L80.84,167.47L81.31,166.49L81.78,165.52L82.26,164.54L82.75,163.58L83.24,162.61L83.74,161.65L84.25,160.70L84.77,159.75L85.29,158.81L85.83,157.87L86.37,156.94L86.92,156.01L87.48,155.09L88.04,154.18L88.62,153.27L89.21,152.37L89.81,151.47L90.41,150.58L91.03,149.70L91.66,148.83L92.30,147.96L92.95,147.10L93.60,146.25L94.27,145.41L94.94,144.57L95.63,143.73L96.32,142.91L97.02,142.09L97.73,141.27L98.45,140.46L99.17,139.66L99.90,138.86L100.64,138.07L101.39,137.28L102.14,136.50L102.90,135.72L103.66,134.94L104.43,134.18L105.21,133.41L105.99,132.65L106.78,131.90L107.57,131.15L108.36,130.40L109.16,129.65L109.97,128.91L110.77,128.18L111.59,127.44L112.40,126.71L113.22,125.99L114.04,125.27L114.87,124.55L115.70,123.83L116.54,123.13L117.37,122.42L118.22,121.72L119.06,121.02L119.91,120.33L120.77,119.64L121.62,118.96L122.48,118.28L123.35,117.61L124.21,116.94L125.09,116.27L125.96,115.62L126.84,114.96L127.72,114.31L128.61,113.67L129.49,113.03L130.39,112.40L131.28,111.78L132.18,111.15L133.08,110.54L133.99,109.93L134.90,109.33L135.81,108.73L136.72,108.14L137.64,107.55L138.56,106.97L139.49,106.40L140.42,105.83L141.35,105.26L142.28,104.71L143.22,104.15L144.16,103.61L145.10,103.07L146.05,102.53L147.00,102.00L147.95,101.48L148.90,100.96L149.86,100.45L150.82,99.95L151.78,99.44L152.75,98.95L153.72,98.46L154.69,97.98L155.66,97.50L156.64,97.03L157.62,96.56L158.60,96.10L159.58,95.64L160.57,95.19L161.56,94.75L162.55,94.31L163.54,93.88L164.54,93.45L165.54,93.03L166.54,92.61L167.54,92.20L168.54,91.79L169.55,91.39L170.56,91.00L171.57,90.61L172.59,90.23L173.60,89.85L174.62,89.48L175.64,89.11L176.66,88.75L177.68,88.39L178.71,88.04L179.74,87.70L180.77,87.36L181.80,87.03L182.83,86.70L183.87,86.37L184.90,86.06L185.94,85.74L186.98,85.44L188.02,85.14L189.06,84.84L190.11,84.55L191.16,84.27L192.20,83.99L193.25,83.71L194.30,83.44L195.36,83.18L196.41,82.92L197.46,82.67L198.52,82.42L199.58,82.18L200.64,81.95L201.70,81.71L202.76,81.49L203.82,81.27L204.88,81.05L205.95,80.84L207.01,80.64L208.08,80.44L209.15,80.25L210.22,80.06L211.29,79.88L212.36,79.70L213.43,79.53L214.50,79.36L215.58,79.20L216.65,79.04L217.73,78.89L218.80,78.74L219.88,78.60L220.96,78.47L222.03,78.34L223.11,78.21L224.19,78.09L225.27,77.98L226.35,77.87L227.43,77.76L228.51,77.66L229.60,77.57L230.68,77.48L231.76,77.40L232.84,77.32L233.93,77.25L235.01,77.18L236.09,77.11L237.18,77.06L238.26,77.00L239.35,76.95L240.43,76.91L241.52,76.87L242.60,76.83L243.69,76.80L244.78,76.78L245.86,76.75L246.95,76.74L248.04,76.72L249.13,76.71L250.21,76.71L251.30,76.71L252.39,76.71L253.48,76.72L254.57,76.73L255.65,76.74L256.74,76.76L257.83,76.78L258.92,76.81L260.01,76.84L261.10,76.87L262.19,76.91L263.28,76.95L264.37,76.99L265.46,77.04L266.55,77.09L267.64,77.14L268.73,77.19L269.82,77.25L270.91,77.32L272.00,77.38L273.09,77.45L274.18,77.52L275.27,77.59L276.35,77.67L277.44,77.75L278.53,77.83L279.62,77.91L280.71,78.00L281.80,78.09L282.89,78.18L283.98,78.27L285.07,78.37L286.16,78.46L287.25,78.56L288.34,78.66L289.42,78.77L290.51,78.87L291.60,78.98L292.69,79.09L293.78,79.20L294.86,79.31L295.95,79.43L297.04,79.54L298.12,79.66L299.21,79.78L300.30,79.90L301.38,80.02L302.47,80.14L303.55,80.27L304.64,80.39L305.72,80.52L306.81,80.64L307.89,80.77L308.97,80.90L310.06,81.03L311.14,81.16L312.22,81.29L313.30,81.42L314.39,81.56L315.47,81.69L316.55,81.82L317.63,81.96L318.71,82.09L319.79,82.22L320.87,82.36L321.95,82.49L323.02,82.63L324.10,82.76L325.18,82.90L326.25,83.03L327.33,83.17L328.40,83.30L329.48,83.44L330.55,83.57L331.63,83.70L332.70,83.84L333.77,83.97L334.84,84.10L335.92,84.23L336.99,84.36L338.06,84.50L339.12,84.62L340.19,84.75L341.26,84.88L342.33,85.01L343.39,85.13L344.46,85.26L345.53,85.38" fill="none" stroke="#2A93EC" stroke-width="1.78"/>
<line x1="32.55" y1="1" x2="32.55" y2="330.05" stroke="#999" stroke-width="1.45"/>
<line x1="31.8" y1="329.4" x2="356.2" y2="329.4" stroke="#999" stroke-width="1.35"/>
<line x1="355.5" y1="1" x2="355.5" y2="330.05" stroke="#8a8a8a" stroke-width="1.4"/>
<line x1="31.9" y1="0.6" x2="355.6" y2="0.6" stroke="#d2d2d2" stroke-width="1.3"/>
<g stroke="#444" stroke-width="1.1">
<line x1="29.8" y1="314.90" x2="32" y2="314.90"/>
<line x1="29.8" y1="260.51" x2="32" y2="260.51"/>
<line x1="29.8" y1="206.12" x2="32" y2="206.12"/>
<line x1="29.8" y1="151.73" x2="32" y2="151.73"/>
<line x1="29.8" y1="97.34" x2="32" y2="97.34"/>
<line x1="29.8" y1="42.95" x2="32" y2="42.95"/>
<line x1="42.30" y1="330" x2="42.30" y2="331.9"/>
<line x1="140.26" y1="330" x2="140.26" y2="331.9"/>
<line x1="238.22" y1="330" x2="238.22" y2="331.9"/>
<line x1="336.18" y1="330" x2="336.18" y2="331.9"/>
</g>
<g fill="#262626" stroke="#262626" stroke-width="0.22" font-size="10.1">
<text x="28.4" y="319" text-anchor="end">0.3</text>
<text x="28.4" y="265" text-anchor="end">0.4</text>
<text x="28.4" y="210" text-anchor="end">0.5</text>
<text x="28.4" y="156" text-anchor="end">0.6</text>
<text x="28.4" y="102" text-anchor="end">0.7</text>
<text x="28.4" y="47" text-anchor="end">0.8</text>
<text x="42.30" y="341.7" text-anchor="middle">0</text>
<text x="140.26" y="341.7" text-anchor="middle">20</text>
<text x="238.22" y="341.7" text-anchor="middle">40</text>
<text x="336.18" y="341.7" text-anchor="middle">60</text>
</g>
<text x="193.6" y="354.7" text-anchor="middle" font-size="11.6" font-weight="bold" fill="#000">Fractional lichen cover (%)</text>
<text transform="translate(10.0,165.0) rotate(-90)" text-anchor="middle" font-size="11.6" font-weight="bold" fill="#000">Relative probability of selection</text>
<text x="289.4" y="277.2" font-size="10" font-weight="bold" fill="#000">season</text>
<rect x="289.7" y="283.7" width="13.4" height="13.1" fill="rgba(255,61,61,0.17)"/>
<rect x="289.7" y="298.1" width="13.4" height="13.6" fill="rgba(42,147,236,0.18)"/>
<line x1="290.4" y1="290.3" x2="302.3" y2="290.3" stroke="#FF3D3D" stroke-width="1.78"/>
<line x1="290.4" y1="304.9" x2="302.3" y2="304.9" stroke="#2A93EC" stroke-width="1.78"/>
<text x="308.6" y="294.1" font-size="10.1" fill="#1a1a1a" stroke="#1a1a1a" stroke-width="0.18">summer</text>
<text x="308.6" y="308.6" font-size="10.1" fill="#1a1a1a" stroke="#1a1a1a" stroke-width="0.18">winter</text>
</svg>
</body></html>
